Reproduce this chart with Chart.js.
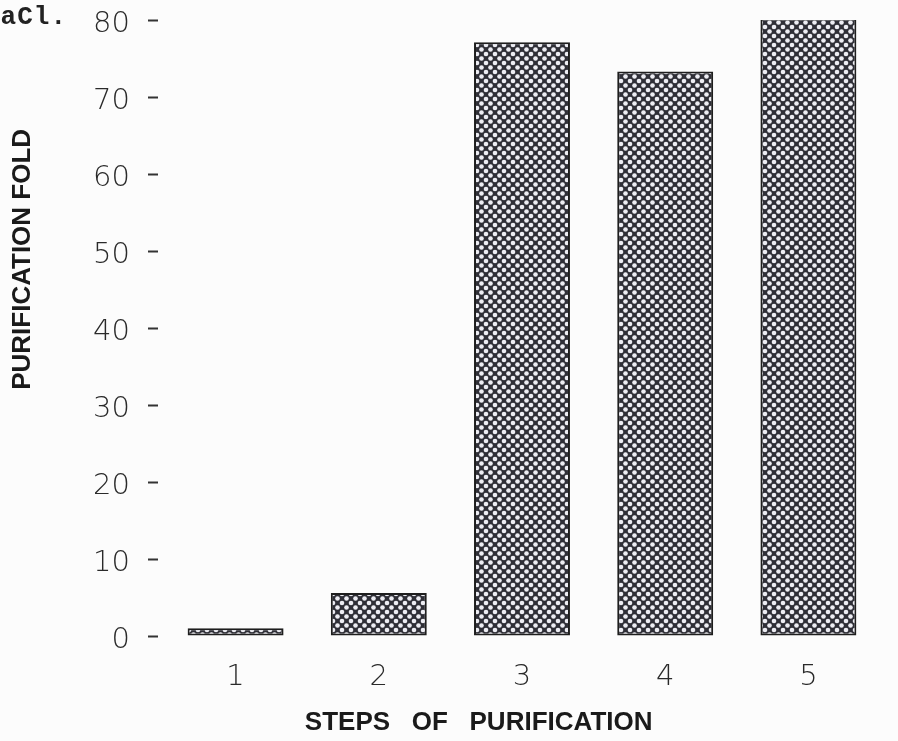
<!DOCTYPE html>
<html>
<head>
<meta charset="utf-8">
<title>Purification fold</title>
<script src="https://cdn.jsdelivr.net/npm/chart.js@4.4.0/dist/chart.umd.min.js"></script>
<style>
  html, body { margin: 0; padding: 0; background: #fcfcfc; overflow: hidden; }
  #wrap { position: relative; width: 898px; height: 741px; }
  #note {
    position: absolute; left: -16px; top: 2px;
    font: bold 26px "Liberation Mono", monospace;
    letter-spacing: 1px; color: #222;
  }
</style>
</head>
<body>
<div id="wrap">
  <canvas id="chart" width="898" height="741"></canvas>
  <div id="note">NaCl.</div>
</div>
<script>
  // Purification steps and fold values
  const steps = ["1", "2", "3", "4", "5"];
  const purificationFold = [1.0, 5.6, 77.1, 73.3, 80.2];
  const yTicks = [0, 10, 20, 30, 40, 50, 60, 70, 80];

  // Cross-hatched fill for the bars
  function hatch() {
    const s = 9;
    const c = document.createElement("canvas");
    c.width = s;
    c.height = s;
    const g = c.getContext("2d");
    g.fillStyle = "#2f2f37";
    g.fillRect(0, 0, s, s);
    g.fillStyle = "#ededf3";
    [[0, 0], [s, 0], [0, s], [s, s], [s / 2, s / 2]].forEach(([x, y]) => {
      g.beginPath();
      g.arc(x, y, 2.3, 0, Math.PI * 2);
      g.fill();
    });
    return g.createPattern(c, "repeat");
  }

  const tickFont = { family: "DejaVu Sans", size: 29, weight: 200 };
  const titleFont = { family: "Liberation Sans", size: 26, weight: "bold" };

  const ctx = document.getElementById("chart").getContext("2d");

  new Chart(ctx, {
    type: "bar",
    data: {
      labels: steps,
      datasets: [
        {
          data: purificationFold,
          backgroundColor: hatch(),
          borderColor: "#1e1e1e",
          borderWidth: 2,
          borderSkipped: false,
          categoryPercentage: 1,
          barPercentage: 0.67,
        },
      ],
    },
    options: {
      responsive: false,
      animation: false,
      layout: { padding: { top: 20, right: 18, left: 0, bottom: 0 } },
      plugins: {
        legend: { display: false },
        tooltip: { enabled: false },
      },
      scales: {
        x: {
          grid: { display: false, drawTicks: false },
          border: { display: false },
          ticks: { color: "#2a2a2a", font: tickFont, padding: 24 },
          title: {
            display: true,
            text: "STEPS   OF   PURIFICATION" + " ".repeat(12),
            color: "#1a1a1a",
            font: titleFont,
            padding: { top: 0, bottom: 3 },
          },
          afterFit(scale) {
            scale.height = 105;
          },
        },
        y: {
          min: 0,
          max: 80,
          afterBuildTicks(scale) {
            scale.ticks = yTicks.map((v) => ({ value: v }));
          },
          grid: {
            drawOnChartArea: false,
            drawTicks: true,
            tickLength: 16,
            tickBorderDash: [10, 20],
            tickColor: "#333",
            tickWidth: 2,
          },
          border: { display: false },
          ticks: { color: "#2a2a2a", font: tickFont, padding: 18, labelOffset: 4 },
          title: {
            display: true,
            text: " ".repeat(19) + "PURIFICATION FOLD",
            color: "#1a1a1a",
            font: titleFont,
            padding: { top: 7, bottom: 0 },
          },
          afterFit(scale) {
            scale.width = 164;
            scale.paddingTop = 0;
            scale.paddingBottom = 0;
          },
        },
      },
    },
  });
</script>
</body>
</html>
